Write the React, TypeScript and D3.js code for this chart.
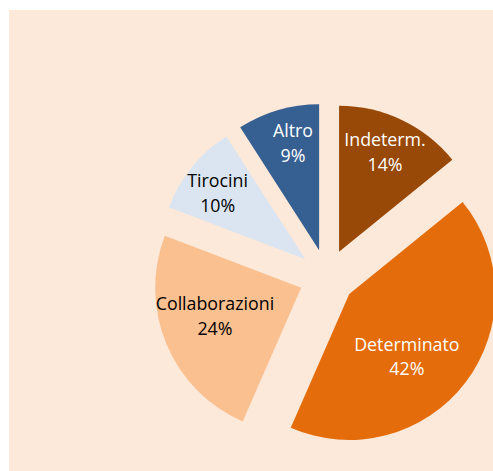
import React from 'react';
import * as d3 from 'd3';

const categories = ['Indeterm.', 'Determinato', 'Collaborazioni', 'Tirocini', 'Altro'];
const values = [14, 42, 24, 10, 9];
const percentLabels = ['14%', '42%', '24%', '10%', '9%'];
const colors = ['#984807', '#E46C0A', '#FAC090', '#DBE5F1', '#376092'];
const textColors = ['#ffffff', '#ffffff', '#000000', '#000000', '#ffffff'];

const W = 493;
const H = 471;
const CX = 327;
const CY = 277;
const R = 146;
const EXPLODE = 28;
const LABEL_R = 100;
const labelNudge: [number, number][] = [[3, -9], [-22, 2], [6, -10], [-10, -3], [2, -11]];

export default function App() {
  const pie = d3.pie<number>().sort(null).value((d) => d)(values);
  const arc = d3.arc<d3.PieArcDatum<number>>().innerRadius(0).outerRadius(R);
  return (
    <svg width={W} height={H} style={{ position: 'absolute', left: 0, top: 0 }}>
      <rect x={9} y={10} width={W - 9} height={H - 10} fill="#FDE9D9" />
      {pie.map((p, i) => {
        const mid = (p.startAngle + p.endAngle) / 2;
        const dx = Math.sin(mid);
        const dy = -Math.cos(mid);
        const ox = CX + EXPLODE * dx;
        const oy = CY + EXPLODE * dy;
        const lx = ox + LABEL_R * dx + labelNudge[i][0];
        const ly = oy + LABEL_R * dy + labelNudge[i][1];
        return (
          <g key={categories[i]}>
            <path d={arc(p) || ''} transform={`translate(${ox},${oy})`} fill={colors[i]} />
            <text
              x={lx}
              textAnchor="middle"
              fill={textColors[i]}
              style={{ fontFamily: '"Open Sans", sans-serif', fontSize: 17.8 }}
            >
              <tspan x={lx} y={ly - 6}>{categories[i]}</tspan>
              <tspan x={lx} y={ly + 18.5}>{percentLabels[i]}</tspan>
            </text>
          </g>
        );
      })}
    </svg>
  );
}
